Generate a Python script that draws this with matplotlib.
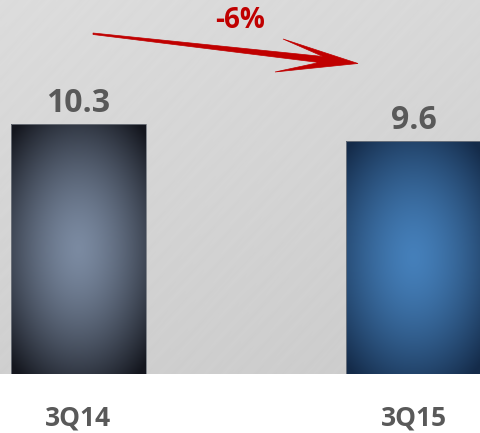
import numpy as np
import matplotlib
matplotlib.use("Agg")
import matplotlib.pyplot as plt
from matplotlib.patches import Polygon

plt.rcParams['font.family'] = ['Open Sans', 'DejaVu Sans']

# Data
categories = ["3Q14", "3Q15"]
values = [10.3, 9.6]
change_label = "-6%"

# Radial gradient colours per bar: (centre, edge)
bar_colors = [
    ((0.48, 0.54, 0.63), (0.08, 0.09, 0.12)),
    ((0.27, 0.50, 0.73), (0.08, 0.17, 0.29)),
]

W, H = 481, 433
fig = plt.figure(figsize=(W / 100, H / 100), dpi=100, facecolor="white")
ax_bottom_px = 374
ax = fig.add_axes([0, (H - ax_bottom_px) / H, 1, ax_bottom_px / H])

xpos = np.arange(len(categories))
for s in ax.spines.values():
    s.set_visible(False)

# Brushed-grey background with faint diagonal streaks
ny, nx = 300, 360
yy, xx = np.mgrid[0:1:ny * 1j, 0:1:nx * 1j]
base = 0.865 - 0.05 * yy - 0.015 * xx
streaks = 0.0028 * np.sin((xx * 1.0 + yy * 0.8) * 140) + 0.002 * np.sin((xx * 1.0 + yy * 0.7) * 330)
bg = np.clip(base + streaks, 0, 1)
ax.imshow(np.dstack([bg, bg, bg]), extent=[0, 1, 0, 1], transform=ax.transAxes,
          aspect="auto", zorder=0, interpolation="bilinear")

bars = ax.bar(xpos, values, width=0.402, color="none", edgecolor="none", zorder=2)

# Fill each bar with an elliptical radial gradient clipped to its rectangle
gy, gx = np.mgrid[-1:1:300j, -1:1:200j]
r = np.sqrt(gx ** 2 + (gy * 1.15) ** 2)
t = np.clip(r / 1.45, 0, 1) ** 1.5
for bar, (c_in, c_out) in zip(bars, bar_colors):
    c_in = np.array(c_in)
    c_out = np.array(c_out)
    img = c_out[None, None, :] + (c_in - c_out)[None, None, :] * (1 - t)[..., None]
    x0, y0 = bar.get_x(), bar.get_y()
    w, h = bar.get_width(), bar.get_height()
    im = ax.imshow(img, extent=[x0, x0 + w, y0, y0 + h], aspect="auto",
                   zorder=2, interpolation="bilinear")
    im.set_clip_path(bar)
    ax.add_patch(plt.Rectangle((x0, y0), w, h, fill=False, edgecolor=(0.45, 0.47, 0.5),
                               linewidth=0.6, zorder=3))

# Value labels above bars
for x, v in zip(xpos, values):
    ax.annotate(f"{v:.1f}", (x, v), xytext=(0, 9), textcoords="offset points",
                ha="center", va="baseline", fontsize=23, fontweight="bold",
                color="#595959", zorder=4)

ax.set_xticks(xpos)
ax.set_xticklabels(categories, fontsize=19, fontweight="bold", color="#595959")
ax.tick_params(axis="x", length=0, pad=22)
ax.set_yticks([])
ax.set_xlim(-0.234, 1.2)
ax.set_ylim(0, 15.41)

# Change arrow (figure pixel coordinates)
pts_px = [(93, 33), (323, 56.5), (283, 39), (358, 63.5), (275, 72), (319, 62.5), (93, 34.5)]
pts = [(px / W, 1 - py / H) for px, py in pts_px]
fig.patches.append(Polygon(pts, closed=True, transform=fig.transFigure,
                           facecolor="#C00000", edgecolor="#C00000", linewidth=0.5, zorder=5))

fig.text(240 / W, 1 - 28 / H, change_label, ha="center", va="baseline",
         fontsize=20, fontweight="bold", color="#C00000")

fig.savefig("out.png", dpi=100, facecolor="white")
